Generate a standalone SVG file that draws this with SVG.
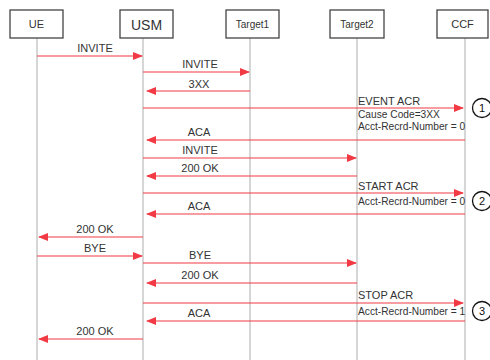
<svg xmlns="http://www.w3.org/2000/svg" width="490" height="360" viewBox="0 0 490 360">
<style>
.box{fill:#fff;stroke:#444;stroke-width:1.3}
.life{stroke:#c8c8c8;stroke-width:1.5}
.msg{stroke:#f23a44;stroke-width:1.2;fill:none}
.t{font-family:"Liberation Sans",Arial,sans-serif;font-size:11px;fill:#333}
.s{font-size:10.2px}
.c{text-anchor:middle}
.circ{fill:#fff;stroke:#111;stroke-width:1.3}
</style>
<defs>
<marker id="ah" viewBox="0 0 10 8" refX="9" refY="4" markerWidth="10" markerHeight="8" markerUnits="userSpaceOnUse" orient="auto">
<path d="M0,0 L10,4 L0,8 Z" fill="#f23a44"/>
</marker>
</defs>
<rect width="490" height="360" fill="#fff"/>
<g id="lifelines">
<line class="life" x1="37" y1="38" x2="37" y2="360"/>
<line class="life" x1="143" y1="38" x2="143" y2="360"/>
<line class="life" x1="250" y1="38" x2="250" y2="360"/>
<line class="life" x1="357" y1="38" x2="357" y2="360"/>
<line class="life" x1="465" y1="38" x2="465" y2="360"/>
</g>
<g id="UE"><rect class="box" x="10" y="10" width="53" height="28"/><text class="t c" x="36.5" y="28">UE</text></g>
<g id="USM"><rect class="box" x="120" y="10" width="53" height="28"/><text class="t c" x="146.5" y="30" style="font-size:14px">USM</text></g>
<g id="Target1"><rect class="box" x="226" y="10" width="53" height="28"/><text class="t c" x="252.5" y="28" style="font-size:10px">Target1</text></g>
<g id="Target2"><rect class="box" x="330" y="10" width="54" height="28"/><text class="t c" x="357" y="28" style="font-size:10px">Target2</text></g>
<g id="CCF"><rect class="box" x="437" y="10" width="51" height="28"/><text class="t c" x="462.5" y="28">CCF</text></g>
<g id="connectors">
<line class="msg" x1="37" y1="56" x2="142" y2="56" marker-end="url(#ah)"/>
<line class="msg" x1="143" y1="72" x2="249" y2="72" marker-end="url(#ah)"/>
<line class="msg" x1="250" y1="91" x2="147" y2="91" marker-end="url(#ah)"/>
<line class="msg" x1="143" y1="108" x2="463" y2="108" marker-end="url(#ah)"/>
<line class="msg" x1="465" y1="140" x2="147" y2="140" marker-end="url(#ah)"/>
<line class="msg" x1="143" y1="158" x2="356" y2="158" marker-end="url(#ah)"/>
<line class="msg" x1="357" y1="176" x2="147" y2="176" marker-end="url(#ah)"/>
<line class="msg" x1="143" y1="193" x2="463" y2="193" marker-end="url(#ah)"/>
<line class="msg" x1="465" y1="214" x2="147" y2="214" marker-end="url(#ah)"/>
<line class="msg" x1="143" y1="237" x2="39" y2="237" marker-end="url(#ah)"/>
<line class="msg" x1="37" y1="256" x2="142" y2="256" marker-end="url(#ah)"/>
<line class="msg" x1="143" y1="263" x2="356" y2="263" marker-end="url(#ah)"/>
<line class="msg" x1="357" y1="283" x2="147" y2="283" marker-end="url(#ah)"/>
<line class="msg" x1="143" y1="303" x2="463" y2="303" marker-end="url(#ah)"/>
<line class="msg" x1="465" y1="321" x2="147" y2="321" marker-end="url(#ah)"/>
<line class="msg" x1="143" y1="339" x2="39" y2="339" marker-end="url(#ah)"/>
</g>
<g id="labels">
<text class="t c" x="95" y="52">INVITE</text>
<text class="t c" x="200" y="68">INVITE</text>
<text class="t c" x="199" y="88">3XX</text>
<text class="t" x="358" y="105">EVENT ACR</text>
<text class="t s" x="358" y="118">Cause Code=3XX</text>
<text class="t s" x="358" y="130">Acct-Recrd-Number = 0</text>
<text class="t c" x="199" y="136">ACA</text>
<text class="t c" x="200" y="154">INVITE</text>
<text class="t c" x="200" y="172">200 OK</text>
<text class="t" x="358" y="190">START ACR</text>
<text class="t s" x="358" y="205">Acct-Recrd-Number = 0</text>
<text class="t c" x="199" y="210">ACA</text>
<text class="t c" x="95" y="233">200 OK</text>
<text class="t c" x="95" y="252">BYE</text>
<text class="t c" x="200" y="259">BYE</text>
<text class="t c" x="200" y="279">200 OK</text>
<text class="t" x="358" y="299">STOP ACR</text>
<text class="t s" x="358" y="315">Acct-Recrd-Number = 1</text>
<text class="t c" x="199" y="317">ACA</text>
<text class="t c" x="95" y="335">200 OK</text>
</g>
<g id="markers">
<g id="m1"><circle class="circ" cx="482" cy="108" r="9.5"/><text class="t c" x="482" y="112" style="fill:#111">1</text></g>
<g id="m2"><circle class="circ" cx="482" cy="201" r="9.5"/><text class="t c" x="482" y="205" style="fill:#111">2</text></g>
<g id="m3"><circle class="circ" cx="482" cy="311" r="9.5"/><text class="t c" x="482" y="315" style="fill:#111">3</text></g>
</g>
</svg>
